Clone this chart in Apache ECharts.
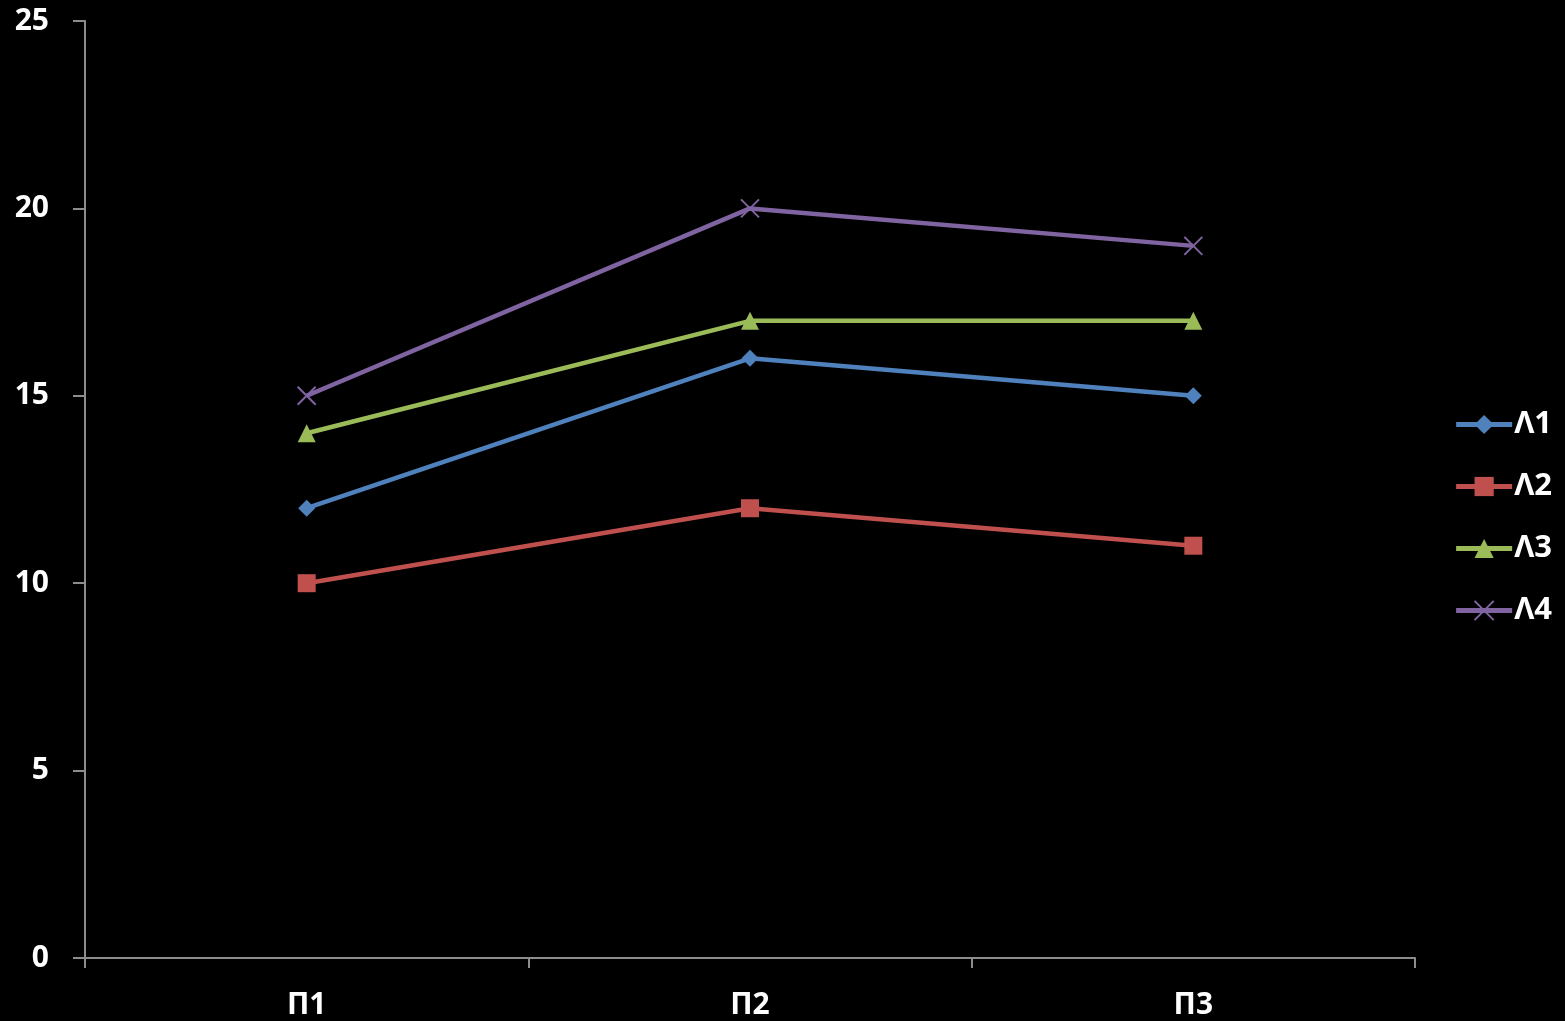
<!DOCTYPE html>
<html><head><meta charset="utf-8">
<script src="https://cdn.jsdelivr.net/npm/echarts@6/dist/echarts.min.js"></script>
<style>html,body{margin:0;padding:0;background:#000;}#c{width:1565px;height:1021px;}</style>
</head><body><div id="c"></div>
<script>
const categories = ['П1', 'П2', 'П3'];
const seriesNames = ['Λ1', 'Λ2', 'Λ3', 'Λ4'];
const L1 = [12, 16, 15];
const L2 = [10, 12, 11];
const L3 = [14, 17, 17];
const L4 = [15, 20, 19];
const yTicks = [0, 5, 10, 15, 20, 25];

const colors = ['#4F81BD', '#C0504D', '#9BBB59', '#8064A2'];
const symbols = ['diamond', 'rect', 'triangle', 'path://M0,0 L10,10 M10,0 L0,10'];
const sizes = [17, 18, 18, 18];
const allData = [L1, L2, L3, L4];
const font = '"Open Sans", "Liberation Sans", sans-serif';

const chart = echarts.init(document.getElementById('c'));
chart.setOption({
  backgroundColor: '#000',
  animation: false,
  grid: { left: 85, right: 150, top: 21, bottom: 63 },
  xAxis: {
    type: 'category', data: categories, boundaryGap: true,
    axisLine: { lineStyle: { color: '#8c8c8c', width: 2 } },
    axisTick: { show: true, length: 10, lineStyle: { color: '#8c8c8c', width: 2 } },
    axisLabel: { color: '#fff', fontSize: 30, fontWeight: 'bold', fontFamily: font, margin: 32 },
    splitLine: { show: false }
  },
  yAxis: {
    type: 'value', min: yTicks[0], max: yTicks[yTicks.length - 1], interval: 5,
    axisLine: { show: true, lineStyle: { color: '#8c8c8c', width: 2 } },
    axisTick: { show: true, length: 12, lineStyle: { color: '#8c8c8c', width: 2 } },
    axisLabel: { color: '#fff', fontSize: 30, fontWeight: 'bold', fontFamily: font, margin: 36 },
    splitLine: { show: false }
  },
  legend: {
    orient: 'vertical', right: 8, top: 404,
    itemWidth: 56, itemHeight: 24, itemGap: 31,
    lineStyle: { width: 5 },
    textStyle: { color: '#fff', fontSize: 31, fontWeight: 'bold', fontFamily: font, padding: [0,0,0,-3] },
    data: seriesNames
  },
  series: seriesNames.map((n, i) => ({
    name: n, type: 'line', data: allData[i],
    symbol: symbols[i], symbolSize: sizes[i], showAllSymbol: true,
    lineStyle: { color: colors[i], width: 4.5 },
    itemStyle: i === 3 ? { color: colors[i], borderColor: colors[i], borderWidth: 2 } : { color: colors[i], borderColor: colors[i], borderWidth: 0 },
    z: 2 + i
  }))
});
</script></body></html>
